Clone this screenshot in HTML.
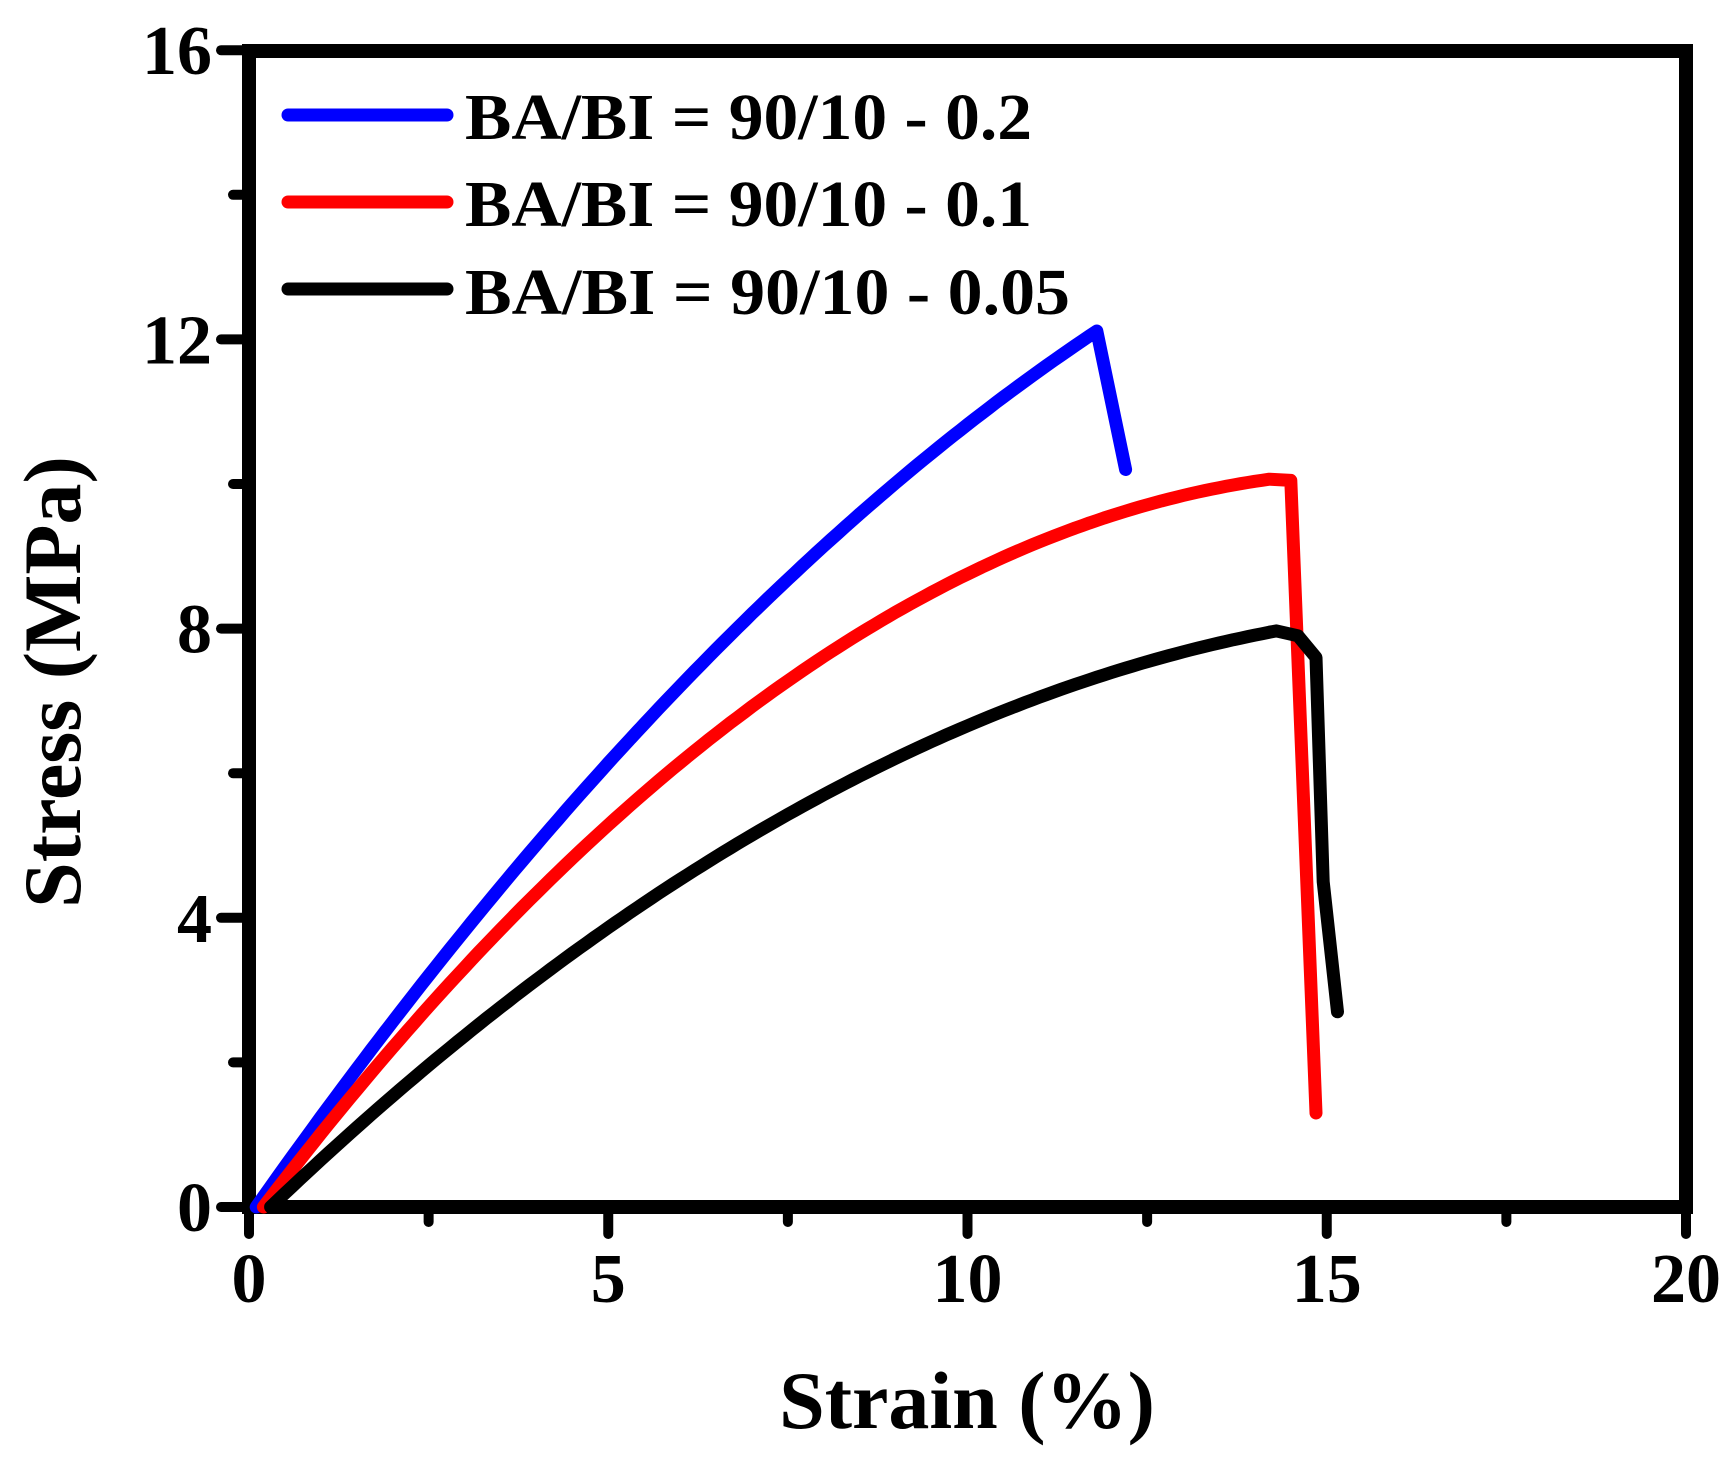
<!DOCTYPE html>
<html><head><meta charset="utf-8"><style>
html,body{margin:0;padding:0;background:#fff;}
svg{display:block;}
text{font-family:"Liberation Serif",serif;font-weight:bold;fill:#000;}
</style></head><body>
<svg id="s" width="1731" height="1463" viewBox="0 0 1731 1463">
<g stroke="#000" stroke-width="10" stroke-linecap="round" id="ticks"></g>
<rect x="249" y="51" width="1437" height="1156" fill="none" stroke="#000" stroke-width="14"/>
<g fill="none" stroke-width="13" stroke-linejoin="round" stroke-linecap="round">
<path id="pb" stroke="#0000ff"/>
<path id="pr" stroke="#ff0000"/>
<path id="pk" stroke="#000"/>
</g>
<g stroke-width="13" stroke-linecap="round">
<line x1="288" y1="115" x2="447" y2="115" stroke="#0000ff"/>
<line x1="288" y1="202" x2="447" y2="202" stroke="#ff0000"/>
<line x1="288" y1="289" x2="447" y2="289" stroke="#000"/>
</g>
<g font-size="66">
<text x="465" y="139" textLength="567" lengthAdjust="spacingAndGlyphs">BA/BI = 90/10 - 0.2</text>
<text x="465" y="226" textLength="567" lengthAdjust="spacingAndGlyphs">BA/BI = 90/10 - 0.1</text>
<text x="465" y="314" textLength="605" lengthAdjust="spacingAndGlyphs">BA/BI = 90/10 - 0.05</text>
</g>
<g font-size="70" id="lbl"></g>
<text x="967" y="1428" font-size="82" text-anchor="middle">Strain (%)</text>
<text transform="translate(80,682) rotate(-90)" font-size="82" text-anchor="middle">Stress (MPa)</text>
</svg>
<script>
var X=function(s){return 249+s*71.85},Y=function(v){return 1207-v*72.3};
var ns="http://www.w3.org/2000/svg",t=document.getElementById('ticks'),l=document.getElementById('lbl');
function ln(a,b,c,d){var e=document.createElementNS(ns,'line');e.setAttribute('x1',a);e.setAttribute('y1',b);e.setAttribute('x2',c);e.setAttribute('y2',d);t.appendChild(e);}
function tx(x,y,s,anc){var e=document.createElementNS(ns,'text');e.setAttribute('x',x);e.setAttribute('y',y);e.setAttribute('text-anchor',anc);e.textContent=s;l.appendChild(e);}
for(var i=0;i<=8;i++){var x=X(i*2.5);ln(x,1207,x,i%2?1222:1234);if(i%2==0)tx(x,1302,String(i*2.5),'middle');}
for(var i=0;i<=8;i++){var y=Y(i*2);ln(249,y,i%2?233:221,y);if(i%2==0)tx(212,y+24,String(i*2),'end');}
function curve(a,b,s0,s1,off,extra){var d='';for(var s=s0;s<=s1+1e-9;s+=0.1){var u=s-off;var v=a*u-b*u*u;if(v<0)v=0;d+=(d?'L':'M')+X(s).toFixed(1)+' '+Y(v).toFixed(1);}
extra.forEach(function(p){d+='L'+X(p[0]).toFixed(1)+' '+Y(p[1]).toFixed(1)});return d;}
document.getElementById('pb').setAttribute('d',curve(1.41,0.032,0.1,11.8,0.1,[[12.2,10.2]]));
document.getElementById('pr').setAttribute('d',curve(1.30,0.0415,0.2,14.2,0.2,[[14.5,10.05],[14.85,1.3]]));
document.getElementById('pk').setAttribute('d',curve(0.95,0.0272,0.3,14.3,0.3,[[14.6,7.9],[14.85,7.6],[14.95,4.5],[15.15,2.7]]));
</script>
</body></html>
